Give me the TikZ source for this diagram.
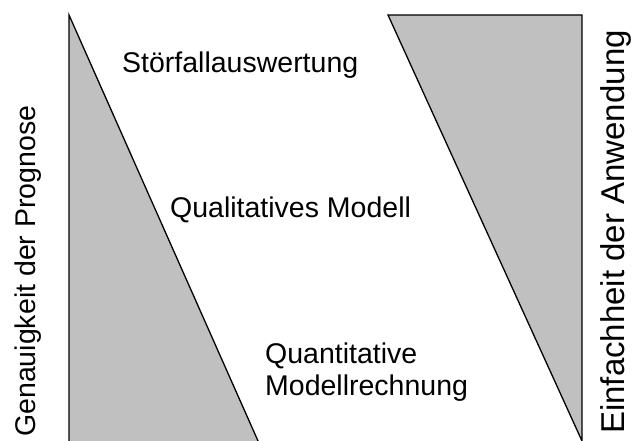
\documentclass[tikz,border=0pt]{standalone}
\usepackage{fontspec}
\setmainfont{Liberation Sans}
\definecolor{wedge}{HTML}{C0C0C0}
\begin{document}
\begin{tikzpicture}[x=1pt,y=-1pt,
  lbl/.style={font=\fontsize{28.5}{32}\selectfont, inner sep=0pt, anchor=base west},
  biglbl/.style={lbl, font=\fontsize{33}{36}\selectfont},
  wedgeline/.style={draw=black, line width=1.3pt, line join=miter}]
\useasboundingbox (0,0) rectangle (632,441);
% left wedge
\fill[wedge] (69,15) -- (259.8,445) -- (69,445) -- cycle;
\draw[wedgeline] (69,445) -- (69,15) -- (259.8,445);
% right wedge
\filldraw[wedgeline, fill=wedge] (388,15) -- (582,15) -- (582,441) -- cycle;
\draw[wedgeline] (582,441) -- (582,445);
% labels
\node[lbl] (s) at (122,73) {Störfallauswertung};
\node[lbl] (q) at (170,217) {Qualitatives Modell};
\node[lbl] (qa) at (265,363) {Quantitative};
\node[lbl] (qb) at (265,395) {Modellrechnung};
\node[lbl, rotate=90] (g) at (35,437) {Genauigkeit der Prognose};
\node[biglbl, rotate=90] (e) at (624,434) {Einfachheit der Anwendung};
\end{tikzpicture}
\end{document}
